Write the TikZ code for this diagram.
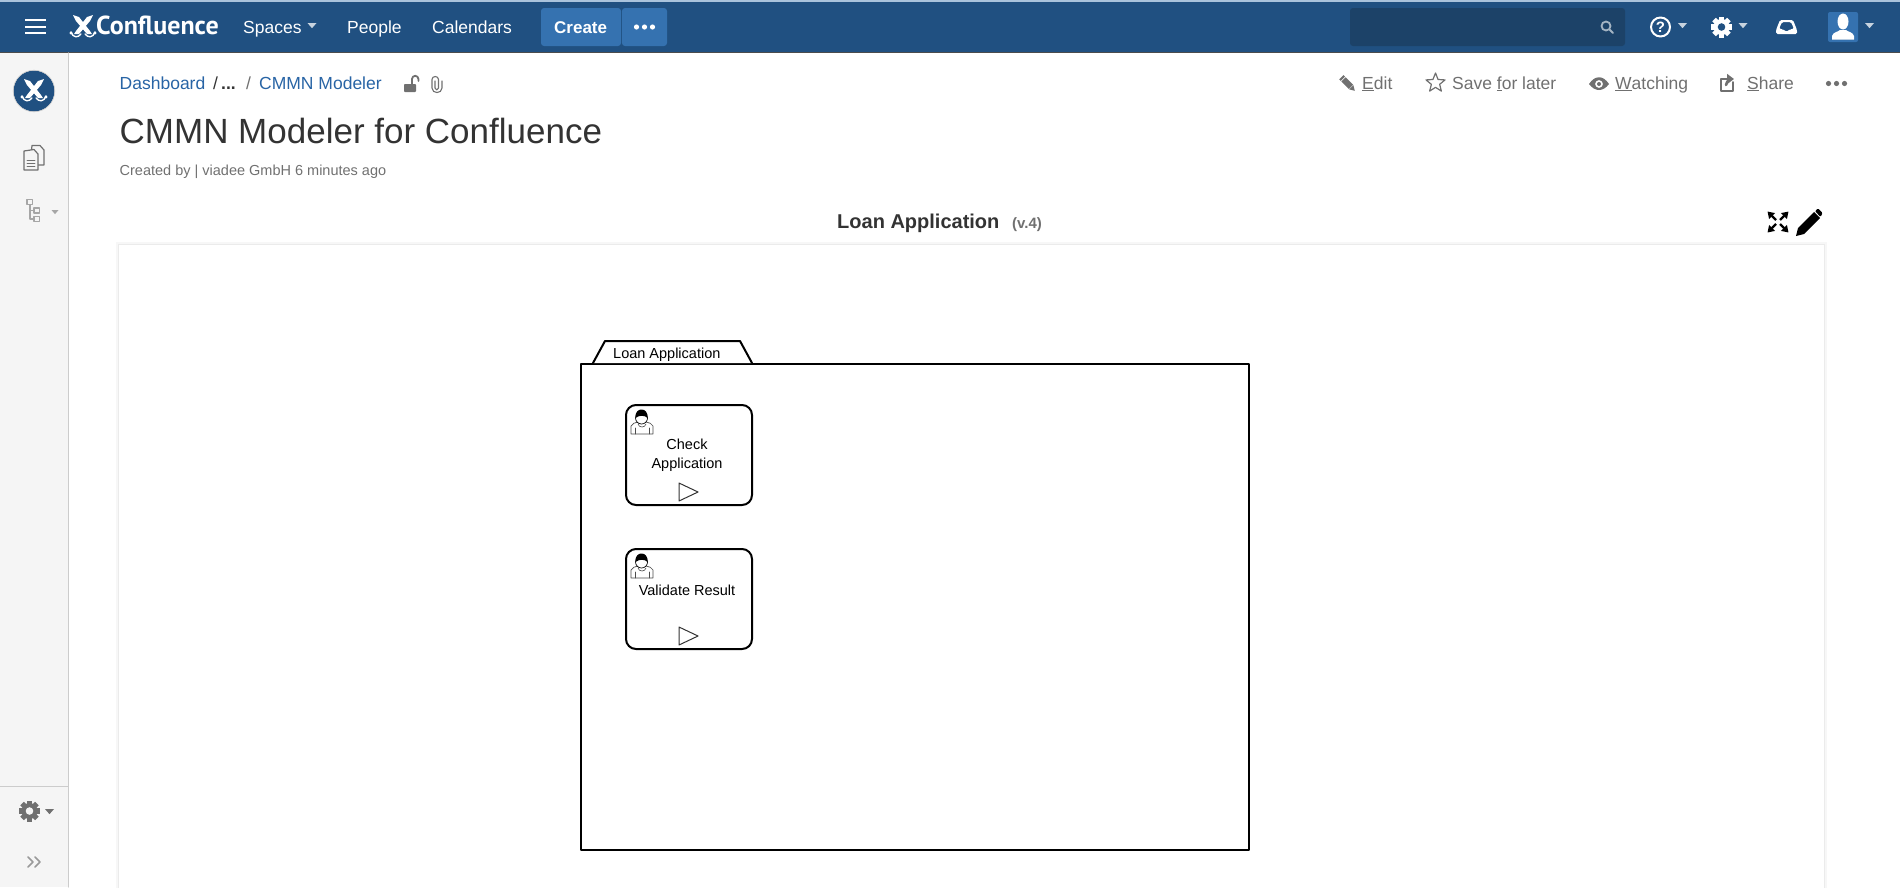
\documentclass[tikz,border=0pt]{standalone}
\usepackage{fontspec}
\setmainfont{Liberation Sans}
\newfontfamily\logofont{PT Sans}
\usepackage{xcolor}
\usetikzlibrary{arrows.meta, calc, positioning, shapes.geometric}
\definecolor{headerblue}{RGB}{32, 80, 129}
\definecolor{topblue}{RGB}{170, 195, 220}
\definecolor{buttonblue}{RGB}{53, 114, 176}
\definecolor{searchblue}{RGB}{28, 66, 104}
\definecolor{linkblue}{RGB}{40, 100, 165}
\definecolor{sidegray}{RGB}{245, 245, 245}
\definecolor{sideline}{RGB}{204, 204, 204}
\definecolor{icongray}{RGB}{112, 112, 112}
\definecolor{titleblack}{RGB}{51, 51, 51}

\newcommand{\px}[1]{\fontsize{#1}{#1}\selectfont}
% gear: position, radius, colour, colour of the hole
\newcommand{\gearmark}[4]{
	\begin{scope}[shift={#1}]
		\foreach \a in {0,45,90,135}
			\fill[#3,rotate=\a] (-0.24*#2,-#2) rectangle (0.24*#2,#2);
		\fill[#3] (0,0) circle ({0.76*#2});
		\fill[#4] (0,0) circle ({0.36*#2});
	\end{scope}
}
% small triangle under a menu: position, half width, colour
\newcommand{\caretmark}[3]{
	\fill[#3,shift={#1}] (-#2,-0.55*#2) -- (#2,-0.55*#2) -- (0,0.6*#2) -- cycle;
}
% three dots: first x, y, colour
\newcommand{\dotsmark}[3]{
	\foreach \d in {0,8,16}
		\fill[#3] ({#1+\d},#2) circle (2.6);
}
% crossed blades of the logo
\newcommand{\bladesmark}[1]{
	\begin{scope}[shift={#1}]
		\fill[white] (-10,-11) -- (-4,-9) -- (7,5) -- (9,8) -- (4,8) -- (-7,-5) -- cycle;
		\fill[white] (10,-11) -- (4,-9) -- (-7,5) -- (-9,8) -- (-4,8) -- (7,-5) -- cycle;
		\draw[white,line width=1.4] (-12,6) .. controls (-10,12) and (-5,12) .. (-2,8);
		\draw[white,line width=1.4] (12,6) .. controls (10,12) and (5,12) .. (2,8);
		\fill[white] (-12,7) circle (1.6) (12,7) circle (1.6);
	\end{scope}
}

\tikzset{
	navtext/.style={anchor=base west,inner sep=0,text=white,font=\px{17.5}},
	linktext/.style={anchor=base west,inner sep=0,text=linkblue,font=\px{17.5}},
	actiontext/.style={anchor=base west,inner sep=0,text=icongray,font=\px{17.5}},
	taskbox/.style={draw=black,line width=2,rounded corners=10,fill=white,minimum width=126,minimum height=100,inner sep=0},
	tasktext/.style={inner sep=0,align=center,text=black,font=\px{14.5}},
	iconline/.style={draw=icongray,line width=1.2,line join=round},
	pics/worker/.style={code={
		\draw[black!70,line width=0.7,fill=white] (0,25) -- (0,17) .. controls (1,14) and (4,14) .. (7,13) -- (15,13) .. controls (18,14) and (21,14) .. (22,17) -- (22,25) -- cycle;
		\draw[black!70,line width=0.6] (4,25) -- (4,19) (18,25) -- (18,19);
		\draw[black!70,line width=0.6] (7,15) .. controls (8,19) and (14,19) .. (15,15);
		\draw[black,line width=0.7,fill=white] (10.5,9) circle (6);
		\fill[black] (4.5,9) .. controls (4,2) and (8,0.5) .. (10.5,0.5) .. controls (14,0.5) and (17,3) .. (16.5,9) .. controls (14,6) and (8,6) .. (4.5,9) -- cycle;
	}},
	pics/playmark/.style={code={
		\draw[black!80,line width=1] (0,0) -- (0,18) -- (19,9) -- cycle;
	}}
}

\begin{document}
\begin{tikzpicture}[x=1pt,y=-1pt,line cap=round,line join=round,>=Triangle]
	\useasboundingbox (0,0) rectangle (1900,887);
	
	% header bar
	\fill[headerblue] (0,0) rectangle (1900,52);
	\fill[topblue] (0,0) rectangle (1900,2);
	\draw[black!70,line width=0.6] (0,52.3) -- (1900,52.3);
	\foreach \y in {20,27,33}
		\draw[white,line width=2.6,line cap=butt] (25,\y) -- (46,\y);
	\bladesmark{(83,26)}
	\node[navtext,font=\logofont\bfseries\px{26}] (logotext) at (96,34.5) {Confluence};
	\node[navtext] (spaces) at (243,33) {Spaces};
	\caretmark{(312,25.5)}{4.5}{white!75!headerblue}
	\node[navtext] (people) at (347,33) {People};
	\node[navtext] (calendars) at (432,33) {Calendars};
	\fill[buttonblue,rounded corners=3] (541,8) rectangle (621,46);
	\fill[buttonblue,rounded corners=3] (622,8) rectangle (667,46);
	\node[navtext,font=\bfseries\px{17}] (create) at (554,33) {Create};
	\dotsmark{636.5}{27}{white}
	\fill[searchblue,rounded corners=3] (1350,8) rectangle (1625,46);
	\draw[white!60!searchblue,line width=1.8] (1606,26) circle (4.5) (1609.5,29.5) -- (1613,33);
	\node[draw=white,circle,line width=2,minimum size=19,inner sep=0,text=white,font=\bfseries\px{15}] (helpmark) at (1660.5,27) {?};
	\caretmark{(1682.5,25.5)}{4.5}{white!75!headerblue}
	\gearmark{(1721.5,27)}{10.5}{white}{headerblue}
	\caretmark{(1743,25.5)}{4.5}{white!75!headerblue}
	% inbox
	\fill[white,rounded corners=1.5,even odd rule] (1780,20) -- (1793,20) -- (1797,30) -- (1797,34) -- (1776,34) -- (1776,30) -- cycle
		(1782,22) -- (1791,22) -- (1794,29) -- (1790,29) -- (1789,31) -- (1784,31) -- (1783,29) -- (1779,29) -- cycle;
	% user button
	\fill[buttonblue,rounded corners=2] (1828,12) rectangle (1858,42);
	\fill[white] (1843,21.5) ellipse (5.5 and 8);
	\fill[white] (1832,39.5) -- (1832,36) .. controls (1833,32) and (1838,32) .. (1840,30) -- (1846,30) .. controls (1848,32) and (1853,32) .. (1854,36) -- (1854,39.5) -- cycle;
	\caretmark{(1869.5,25.5)}{4.5}{white!75!headerblue}
	
	% sidebar
	\fill[sidegray] (0,52.8) rectangle (68,887);
	\draw[sideline,line width=1] (68.5,52.8) -- (68.5,887);
	\draw[sideline,line width=1] (0,786) -- (68,786);
	\fill[headerblue] (34,91) circle (20.5);
	\draw[sideline,line width=0.6] (34,91) circle (20.8);
	\bladesmark{(34,90)}
	% pages
	\draw[iconline,fill=sidegray] (32,145.5) -- (40,145.5) -- (44,150) -- (44,165) -- (30,165) -- cycle;
	\draw[iconline,fill=sidegray] (24,151) -- (34,149.5) -- (38,154) -- (38,170) -- (24,170) -- cycle;
	\foreach \y in {160,163,166}
		\draw[icongray,line width=0.8] (27,\y) -- (35,\y);
	% tree
	\draw[black!35,line width=1.2] (30,204) -- (30,219) -- (35,219) (30,210.5) -- (35,210.5);
	\foreach \x/\y in {30/202,37/210.5,37/219}
		\draw[black!35,line width=1.2,fill=sidegray] ({\x-3},{\y-2.5}) rectangle ({\x+2.5},{\y+2.5});
	\caretmark{(55,212)}{3.5}{black!35}
	\gearmark{(29.5,811)}{10.5}{icongray}{sidegray}
	\caretmark{(49.5,811.5)}{4.5}{icongray}
	\draw[black!40,line width=1.6] (28,857) -- (33,862) -- (28,867) (35,857) -- (40,862) -- (35,867);
	
	% breadcrumb and title
	\node[linktext] (dashboard) at (119.5,89) {Dashboard};
	\node[actiontext,text=titleblack] (slashone) at (213,89) {/};
	\node[actiontext,text=titleblack,font=\bfseries\px{17.5}] (ellipsis) at (221,89) {...};
	\node[actiontext] (slashtwo) at (246,89) {/};
	\node[linktext] (modeler) at (259,89) {CMMN Modeler};
	\fill[icongray,rounded corners=0.8] (404,84) rectangle (416,92);
	\draw[icongray,line width=1.8] (412,84) -- (412,79) arc (180:0:3.2 and -3.2) -- (418.4,81);
	\draw[icongray,line width=1.1] (435,81) -- (435,88) .. controls (435,90.5) and (438.5,90.5) .. (438.5,88) -- (438.5,79.5) .. controls (438.5,75.5) and (432,75.5) .. (432,79.5) -- (432,88) .. controls (432,94) and (442,94) .. (442,88) -- (442,81);
	\node[anchor=base west,inner sep=0,text=titleblack,font=\px{35}] (pagetitle) at (119.5,143) {CMMN Modeler for Confluence};
	\node[anchor=base west,inner sep=0,text=icongray,font=\px{14.5}] (createdby) at (119.5,175) {Created by | viadee GmbH 6 minutes ago};
	
	% page actions
	\fill[icongray,rotate around={45:(1347,83)}] (1344,78) rectangle (1350,88.5);
	\fill[icongray,rotate around={45:(1347,83)}] (1344,89) -- (1350,89) -- (1347,94) -- cycle;
	\fill[icongray,rotate around={45:(1347,83)}] (1344,75) rectangle (1350,77);
	\node[actiontext] (edit) at (1362,89) {\underline{E}dit};
	\node[star,star points=5,star point ratio=2.3,draw=icongray,line width=1.2,minimum size=20,inner sep=0] (savestar) at (1435.5,83) {};
	\node[actiontext] (savelater) at (1452,89) {Save \underline{f}or later};
	\fill[icongray,even odd rule] (1589,84) .. controls (1595,75) and (1603,75) .. (1609,84) .. controls (1603,92) and (1595,92) .. (1589,84) -- cycle (1599,84) circle (4);
	\fill[icongray] (1599,84) circle (2);
	\node[actiontext] (watching) at (1615,89) {\underline{W}atching};
	\draw[icongray,line width=2] (1733,82) -- (1733,91) -- (1721,91) -- (1721,79) -- (1727,79);
	\draw[icongray,line width=2.6,-{Triangle[length=7,width=10]}] (1726,85) .. controls (1727,80) and (1731,79) .. (1734,79);
	\node[actiontext] (share) at (1747,89) {\underline{S}hare};
	\dotsmark{1828.5}{83.5}{icongray}
	
	% card with the diagram
	\fill[black!3] (116,242) rectangle (1827,890);
	\fill[black!8] (118,243.5) rectangle (1825,890);
	\fill[white] (119,245) rectangle (1824,890);
	\node[anchor=base west,inner sep=0,text=titleblack,font=\bfseries\px{20}] (macrotitle) at (837,228) {Loan Application};
	\node[anchor=base west,inner sep=0,text=icongray,font=\bfseries\px{15}] (macroversion) at (1012,228) {(v.4)};
	\coordinate (expand) at (1778,222);
	\foreach \sx/\sy in {1/1,1/-1,-1/1,-1/-1}
		\draw[black,line width=2.2,line cap=butt,-{Triangle[length=6.5,width=8]}] ($(expand)+(\sx*2,\sy*2)$) -- ($(expand)+(\sx*10.5,\sy*10.5)$);
	\fill[black] (1796,236) -- (1798,228) -- (1814,212) -- (1820,218) -- (1804,234) -- cycle;
	\fill[black,rounded corners=1] (1815,211) -- (1818,208.5) -- (1822.5,213) -- (1820.5,217) -- cycle;
	
	% case plan model
	\node[draw=black,line width=2,minimum width=668,minimum height=486,inner sep=0] (caseframe) at (915,607) {};
	\draw[black,line width=2,fill=white] ($(caseframe.north west)+(13,0)$) -- ($(caseframe.north west)+(25,-22)$) -- ($(caseframe.north west)+(160,-22)$) -- ($(caseframe.north west)+(172,0)$);
	\node[anchor=base west,inner sep=0,text=black,font=\px{14.5}] (casetitle) at (613,358) {Loan Application};
	
	% tasks
	\node[taskbox] (check) at (689,455) {};
	\node[taskbox,below=42pt of check] (validate) {};
	\node[tasktext] (checktext) at ($(check)+(-2,0.5)$) {Check\\[4.5pt]Application};
	\node[tasktext] (validatetext) at ($(validate)+(-2,-9)$) {Validate Result};
	\foreach \task in {check,validate}{
		\pic at ($(\task.north west)+(6,5)$) {worker};
		\pic at ($(\task.south)+(-10,-23)$) {playmark};
	}
\end{tikzpicture}
\end{document}
